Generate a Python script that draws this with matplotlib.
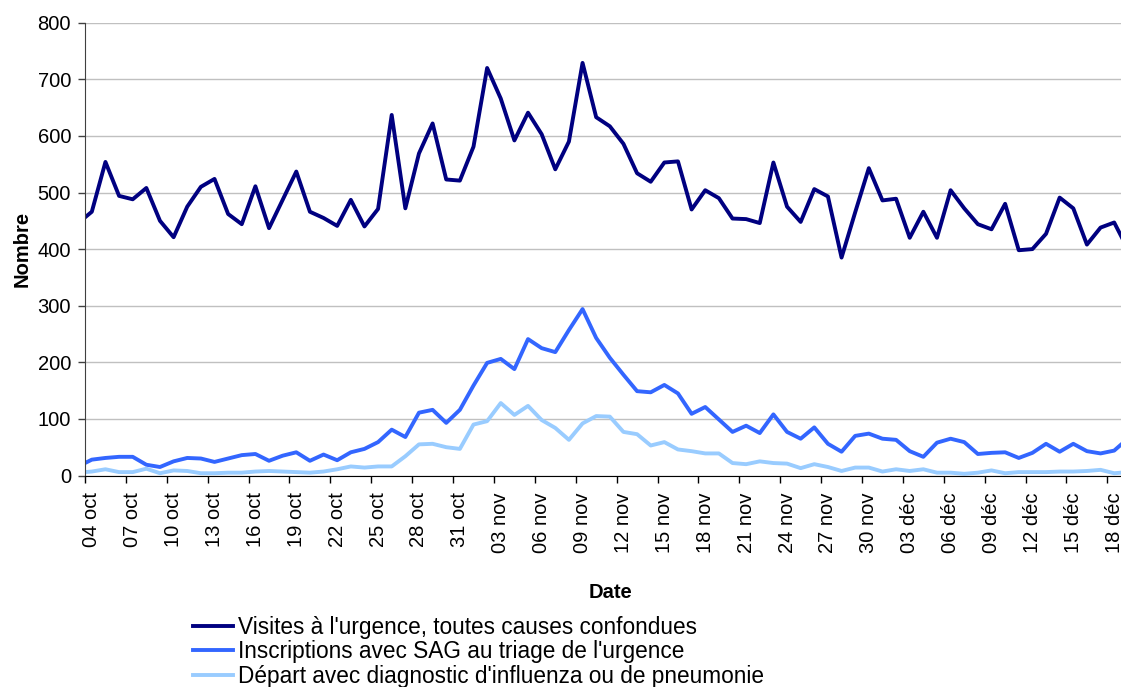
import numpy as np
import matplotlib
matplotlib.use("Agg")
import matplotlib.pyplot as plt

plt.rcParams['font.family'] = ['Liberation Sans', 'DejaVu Sans']

# valeurs quotidiennes du 03 oct au 19 déc (03 oct et 19 déc sont coupés par le cadre)
visites = [446, 466, 554, 494, 488, 508, 450, 421, 475, 510, 524, 462, 444, 511, 437, 487,
           537, 466, 455, 441, 487, 440, 471, 637, 472, 569, 622, 523, 521, 581, 720, 666,
           592, 641, 603, 541, 590, 729, 633, 617, 586, 534, 519, 553, 555, 470, 504, 490,
           454, 453, 446, 553, 475, 448, 506, 493, 385, 465, 543, 486, 489, 420, 466, 420,
           504, 472, 444, 435, 480, 398, 400, 427, 491, 472, 408, 438, 447, 400]
inscriptions = [16, 28, 31, 33, 33, 19, 15, 25, 31, 30, 24, 30, 36, 38, 26, 35,
                41, 26, 37, 27, 41, 47, 59, 81, 68, 111, 116, 93, 116, 159, 199, 206,
                188, 241, 225, 218, 257, 294, 243, 208, 178, 149, 147, 160, 145, 109, 121, 99,
                77, 88, 75, 108, 77, 65, 85, 56, 42, 70, 74, 65, 63, 43, 33, 58,
                65, 59, 38, 40, 41, 31, 40, 56, 42, 56, 43, 39, 44, 65]
depart = [5, 7, 11, 6, 6, 12, 4, 9, 8, 4, 4, 5, 5, 7, 8, 7,
          6, 5, 7, 11, 16, 14, 16, 16, 34, 55, 56, 50, 47, 90, 96, 128,
          107, 123, 98, 84, 63, 92, 105, 104, 77, 73, 53, 59, 46, 43, 39, 39,
          22, 20, 25, 22, 21, 13, 20, 15, 8, 14, 14, 7, 11, 8, 11, 5,
          5, 3, 5, 9, 4, 6, 6, 6, 7, 7, 8, 10, 4, 6]

tick_labels = ["04 oct", "07 oct", "10 oct", "13 oct", "16 oct", "19 oct", "22 oct",
               "25 oct", "28 oct", "31 oct", "03 nov", "06 nov", "09 nov", "12 nov",
               "15 nov", "18 nov", "21 nov", "24 nov", "27 nov", "30 nov", "03 déc",
               "06 déc", "09 déc", "12 déc", "15 déc", "18 déc"]

noms = ["Visites à l'urgence, toutes causes confondues",
        "Inscriptions avec SAG au triage de l'urgence",
        "Départ avec diagnostic d'influenza ou de pneumonie"]
couleurs = ["#000080", "#3366FF", "#99CCFF"]

x = np.arange(len(visites)) - 1  # 04 oct = 0

fig = plt.figure(figsize=(11.21, 6.87), dpi=100)
ax = fig.add_axes([85 / 1121, 1 - 475.5 / 687, 1036 / 1121, 452.8 / 687])

for serie, nom, c in zip([visites, inscriptions, depart], noms, couleurs):
    ax.plot(x, serie, color=c, lw=2.8, label=nom, solid_joinstyle='round')

ax.set_xlim(-0.5, 75.5)
ax.set_ylim(0, 800)
ax.set_yticks(np.arange(0, 801, 100))
ax.yaxis.grid(True, color='#c0c0c0', lw=1.0)
ax.set_axisbelow(True)

pos = np.arange(0, 76, 3)
ax.set_xticks(pos)
ax.set_xticklabels(tick_labels, rotation=90, fontsize=14.5)
ax.set_xticks(np.arange(-0.5, 76, 3), minor=True)
ax.tick_params(axis='x', which='major', length=0, pad=12)
ax.tick_params(axis='x', which='minor', length=5, width=1, color='black', direction='out')
ax.tick_params(axis='y', length=5, width=1, color='#404040', labelsize=14.5, pad=5)

for s in ['top', 'right']:
    ax.spines[s].set_visible(False)
ax.spines['left'].set_color('#404040')
ax.spines['bottom'].set_color('black')

ax.set_xlabel('Date', fontsize=14.5, fontweight='bold')
ax.xaxis.set_label_coords(0.507, -0.237)
ax.set_ylabel('Nombre', fontsize=14.5, fontweight='bold')
ax.yaxis.set_label_coords(-0.052, 0.5)

fig.legend(loc='upper left', bbox_to_anchor=(193 / 1121, 1 - 616 / 687),
           frameon=False, fontsize=16.3, handlelength=1.77, handletextpad=0.22,
           labelspacing=0.06, borderpad=0, borderaxespad=0)

fig.savefig('out.png', dpi=100)
